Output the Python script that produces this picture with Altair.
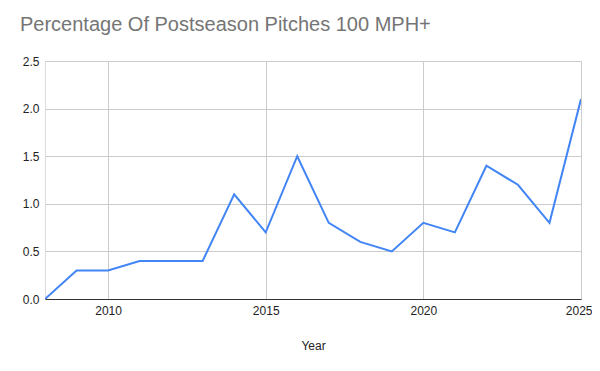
import altair as alt
import pandas as pd

years = list(range(2008, 2026))
values = [0.0, 0.3, 0.3, 0.4, 0.4, 0.4, 1.1, 0.7, 1.5, 0.8, 0.6, 0.5, 0.8, 0.7, 1.4, 1.2, 0.8, 2.1]
x_ticks = [2010, 2015, 2020, 2025]
y_ticks = [0.0, 0.5, 1.0, 1.5, 2.0, 2.5]

df = pd.DataFrame({"Year": years, "Value": values})

font = "Liberation Sans"

line = alt.Chart(df).mark_line(color="#4285F4", strokeWidth=2, clip=True).encode(
    x=alt.X("Year:Q",
            scale=alt.Scale(domain=[2008, 2025], nice=False, zero=False),
            axis=alt.Axis(values=x_ticks, format="d", title="Year", grid=True,
                          gridColor="#cccccc", domain=True, domainColor="#333333",
                          ticks=False, labelPadding=6, titlePadding=24,
                          labelColor="#222222", titleColor="#222222",
                          labelFontSize=12, titleFontSize=12, titleFontWeight="normal",
                          labelFont=font, titleFont=font,
                          labelFlush=True, labelFlushOffset=11)),
    y=alt.Y("Value:Q",
            scale=alt.Scale(domain=[0, 2.5], nice=False),
            axis=alt.Axis(values=y_ticks, format=".1f", title=None, grid=True,
                          gridColor="#cccccc", domain=False, ticks=False,
                          labelPadding=6, labelColor="#222222", labelFontSize=12,
                          labelFont=font)),
)

chart = line.properties(
    width=536,
    height=238,
    title=alt.TitleParams("Percentage Of Postseason Pitches 100 MPH+", anchor="start",
                          frame="group", font=font, fontSize=20, fontWeight="normal",
                          color="#757575", dx=-25, offset=20),
    autosize=alt.AutoSizeParams(type="none"),
    padding={"left": 37, "top": 53, "right": 11, "bottom": 64},
).configure_view(stroke=None).configure(background="white")

chart.save("out.html", embed_options={"renderer": "svg", "actions": False})
